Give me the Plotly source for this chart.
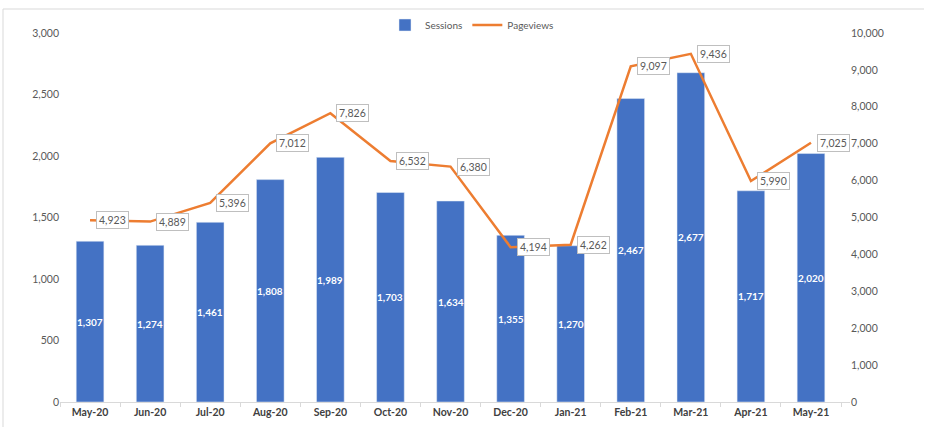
import plotly.graph_objects as go

months = ["May-20", "Jun-20", "Jul-20", "Aug-20", "Sep-20", "Oct-20", "Nov-20",
          "Dec-20", "Jan-21", "Feb-21", "Mar-21", "Apr-21", "May-21"]
sessions = [1307, 1274, 1461, 1808, 1989, 1703, 1634, 1355, 1270, 2467, 2677, 1717, 2020]
pageviews = [4923, 4889, 5396, 7012, 7826, 6532, 6380, 4194, 4262, 9097, 9436, 5990, 7025]

FONT = "Lato, Open Sans, sans-serif"
GRAY = "#595959"

fig = go.Figure()
fig.add_trace(go.Bar(
    x=months, y=sessions, name="Sessions", marker_color="#4472C4",
))
fig.add_trace(go.Scatter(
    x=months, y=pageviews, name="Pageviews", yaxis="y2", mode="lines",
    line=dict(color="#ED7D31", width=2.5),
))

annotations = []
# bar value labels, centred in each bar
for m, v in zip(months, sessions):
    annotations.append(dict(
        x=m, y=v / 2, xref="x", yref="y", text=f"{v:,}", showarrow=False,
        xanchor="center", yanchor="middle",
        font=dict(family=FONT, size=10, color="white", weight="bold"),
    ))
# line value callouts
for m, v in zip(months, pageviews):
    annotations.append(dict(
        x=m, y=v, xref="x", yref="y2", text=f"{v:,}", showarrow=False,
        xanchor="left", yanchor="middle", xshift=6,
        bgcolor="white", bordercolor="#BFBFBF", borderwidth=1, borderpad=2,
        font=dict(family=FONT, size=10.5, color=GRAY),
    ))

L, R, T, B = 60, 850, 33, 402
W, H = R - L, B - T
def px(x):
    return (x - L) / W
def py(y):
    return (B - y) / H

shapes = [
    dict(type="line", xref="paper", yref="paper", x0=px(3), x1=px(3), y0=py(9), y1=py(427),
         line=dict(color="#D9D9D9", width=1)),
    dict(type="line", xref="paper", yref="paper", x0=px(3), x1=px(924), y0=py(9), y1=py(9),
         line=dict(color="#D9D9D9", width=1)),
]

fig.update_layout(
    width=928, height=427,
    margin=dict(l=L, r=928 - R, t=T, b=427 - B, autoexpand=False),
    paper_bgcolor="white", plot_bgcolor="white",
    bargap=0.54,
    font=dict(family=FONT, size=10, color=GRAY),
    showlegend=True,
    legend=dict(orientation="h", x=px(472), xanchor="center", y=py(25), yanchor="middle",
                font=dict(family=FONT, size=10, color=GRAY), bgcolor="rgba(0,0,0,0)",
                itemwidth=30, tracegroupgap=0),
    xaxis=dict(showgrid=False, showline=True, linecolor="#D9D9D9", linewidth=1,
               ticks="outside", tickson="boundaries", ticklen=4, tickcolor="#D9D9D9",
               automargin=False,
               tickfont=dict(family=FONT, size=10.5, color="#404040", weight="bold")),
    yaxis=dict(range=[0, 3000], dtick=500, tickformat=",", showgrid=False, zeroline=False,
               showline=False, ticks="", automargin=False,
               tickfont=dict(family=FONT, size=10.5, color=GRAY)),
    yaxis2=dict(range=[0, 10000], dtick=1000, tickformat=",", overlaying="y", side="right",
                showgrid=False, zeroline=False, showline=False, ticks="", automargin=False,
                tickfont=dict(family=FONT, size=10.5, color=GRAY)),
    annotations=annotations,
    shapes=shapes,
)

fig.write_html("out.html", config={"displayModeBar": False},
               post_script="document.body.style.margin='0';document.body.style.padding='0';")
